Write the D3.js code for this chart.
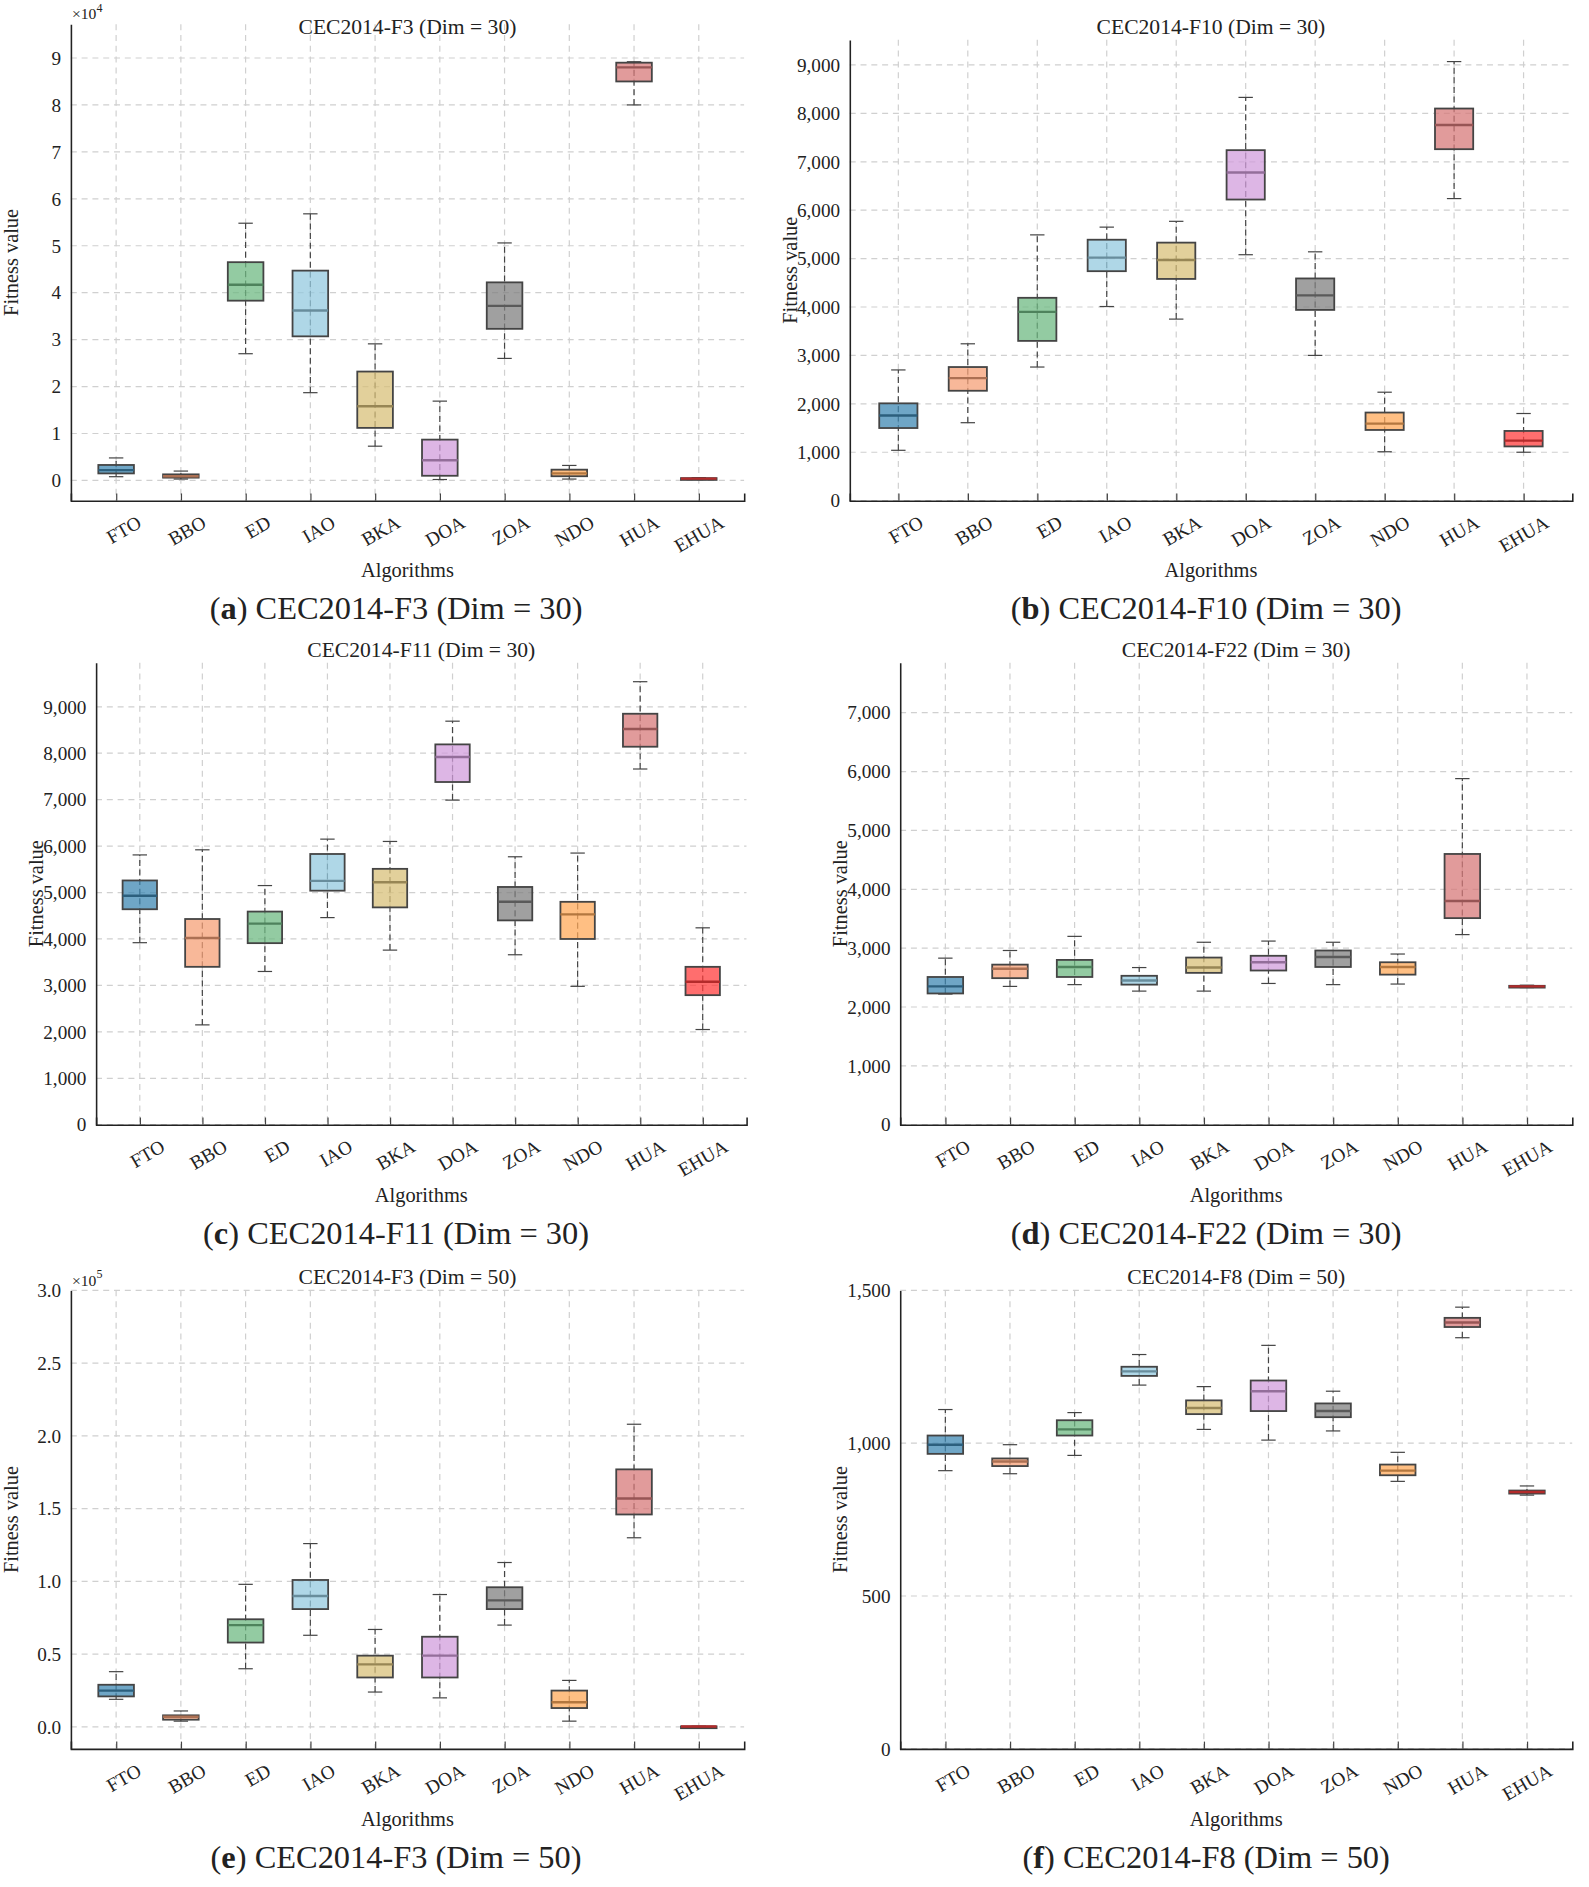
<!DOCTYPE html>
<html><head><meta charset="utf-8">
<script src="https://cdn.jsdelivr.net/npm/d3@7"></script>
<style>body{margin:0;background:#fff}text{font-family:"Liberation Serif","Times New Roman",serif;fill:#222}</style>
</head><body><svg id="c" width="1589" height="1887" viewBox="0 0 1324 1568"></svg>
<script>
const categories=["FTO","BBO","ED","IAO","BKA","DOA","ZOA","NDO","HUA","EHUA"];
const colors=["#3f88b3","#f6a077","#6fb983","#94c9df","#d8c07a","#d29ddc","#808080","#ffaa5a","#d77a7a","#ff3d3d"];
// [low whisker, q1, median, q3, high whisker]
const dataA=[[0.08,0.15,0.22,0.33,0.48],[0.03,0.06,0.09,0.13,0.2],[2.7,3.83,4.17,4.65,5.48],[1.87,3.07,3.62,4.47,5.68],[0.73,1.12,1.58,2.32,2.91],[0.02,0.1,0.43,0.87,1.69],[2.6,3.23,3.72,4.22,5.06],[0.03,0.09,0.15,0.23,0.32],[8.0,8.5,8.8,8.9,8.92],[0.02,0.03,0.04,0.05,0.06]];
const dataB=[[1040,1500,1760,2010,2700],[1610,2270,2530,2760,3240],[2760,3300,3900,4190,5490],[4010,4740,5020,5390,5650],[3750,4580,4970,5330,5770],[5080,6220,6780,7240,8330],[3000,3940,4240,4590,5140],[1010,1460,1590,1820,2240],[6240,7260,7760,8100,9070],[1000,1120,1240,1440,1800]];
const dataC=[[3920,4640,4930,5260,5810],[2150,3400,4020,4430,5920],[3300,3910,4330,4590,5150],[4460,5040,5250,5830,6150],[3760,4680,5220,5510,6100],[6990,7380,7920,8190,8690],[3660,4400,4800,5120,5770],[2980,4000,4530,4800,5850],[7660,8140,8520,8850,9540],[2050,2790,3080,3400,4240]];
const dataD=[[2220,2230,2350,2510,2830],[2350,2490,2650,2720,2960],[2380,2510,2680,2800,3200],[2270,2380,2450,2530,2670],[2270,2580,2670,2840,3100],[2400,2620,2760,2870,3120],[2380,2680,2850,2960,3100],[2390,2550,2680,2760,2900],[3230,3510,3800,4600,5880],[2330,2340,2350,2360,2370]];
const dataE=[[0.19,0.21,0.25,0.29,0.38],[0.04,0.05,0.07,0.08,0.11],[0.40,0.58,0.70,0.74,0.98],[0.63,0.81,0.90,1.01,1.26],[0.24,0.34,0.43,0.49,0.67],[0.20,0.34,0.49,0.62,0.91],[0.70,0.81,0.87,0.96,1.13],[0.04,0.13,0.17,0.25,0.32],[1.30,1.46,1.57,1.77,2.08],[0.001,0.002,0.003,0.004,0.005]];
const dataF=[[910,965,995,1025,1110],[900,925,940,950,995],[960,1025,1045,1075,1100],[1190,1220,1235,1250,1290],[1045,1095,1115,1140,1185],[1010,1105,1170,1205,1320],[1040,1085,1105,1130,1170],[875,895,910,930,970],[1345,1380,1395,1410,1445],[830,835,840,845,860]];
const ticksA=[0,1,2,3,4,5,6,7,8,9], ticksB=d3.range(0,9001,1000), ticksC=d3.range(0,9001,1000), ticksD=d3.range(0,7001,1000), ticksE=[0,0.5,1,1.5,2,2.5,3], ticksF=[0,500,1000,1500];
const titles=["CEC2014-F3 (Dim = 30)","CEC2014-F10 (Dim = 30)","CEC2014-F11 (Dim = 30)","CEC2014-F22 (Dim = 30)","CEC2014-F3 (Dim = 50)","CEC2014-F8 (Dim = 50)"];
const letters=["a","b","c","d","e","f"];
const SERIF="Liberation Serif";
const panels=[
 {d:dataA,t:ticksA,dom:[-0.43,9.72],L:59,R:620,T:18,B:415,exp:"4"},
 {d:dataB,t:ticksB,dom:[0,9520],L:708,R:1310,T:31,B:415},
 {d:dataC,t:ticksC,dom:[0,9950],L:80,R:622,T:550,B:935},
 {d:dataD,t:ticksD,dom:[0,7850],L:750,R:1310,T:550,B:935},
 {d:dataE,t:ticksE,dom:[-0.15,3],L:59,R:620,T:1073,B:1455,exp:"5"},
 {d:dataF,t:ticksF,dom:[0,1500],L:750,R:1310,T:1073,B:1455}
];
const svg=d3.select("#c");
panels.forEach((p,i)=>{
 const g=svg.append("g");
 const x=d3.scalePoint().domain(categories).range([p.L,p.R]).padding(0.7);
 const y=d3.scaleLinear().domain(p.dom).range([p.B,p.T]);
 g.selectAll(".hg").data(p.t).join("line").attr("x1",p.L).attr("x2",p.R).attr("y1",d=>y(d)).attr("y2",d=>y(d)).attr("stroke","#d0d0d0").attr("stroke-dasharray","5,4");
 g.selectAll(".vg").data(categories).join("line").attr("x1",d=>x(d)).attr("x2",d=>x(d)).attr("y1",p.T).attr("y2",p.B).attr("stroke","#d0d0d0").attr("stroke-dasharray","5,4");
 const ya=g.append("g").attr("transform",`translate(${p.L},0)`).call(d3.axisLeft(y).tickValues(p.t).tickSize(0).tickPadding(8)).attr("font-family",SERIF).attr("font-size",16);
 ya.select(".domain").attr("stroke","#222").attr("stroke-width",1.3);
 ya.selectAll("text").style("font-family",SERIF).style("font-size","16px");
 const xa=g.append("g").attr("transform",`translate(0,${p.B})`).call(d3.axisBottom(x).tickSize(-6).tickPadding(10)).attr("font-family",SERIF).attr("font-size",16);
 xa.select(".domain").attr("stroke","#222").attr("stroke-width",1.3);
 xa.selectAll("line").attr("stroke","#444");
 xa.selectAll("text").style("font-family",SERIF).style("font-size","16px").attr("text-anchor","end").attr("transform","rotate(-30) translate(8,8)");
 const bw=x.step()*0.55;
 p.d.forEach((v,k)=>{
  const cx=x(categories[k]);
  const c=colors[k];
  g.append("line").attr("x1",cx).attr("x2",cx).attr("y1",y(v[0])).attr("y2",y(v[4])).attr("stroke","#444").attr("stroke-dasharray","5,3").attr("stroke-width",1);
  [v[0],v[4]].forEach(w=>g.append("line").attr("x1",cx-6).attr("x2",cx+6).attr("y1",y(w)).attr("y2",y(w)).attr("stroke","#444"));
  g.append("rect").attr("x",cx-bw/2).attr("width",bw).attr("y",y(v[3])).attr("height",Math.max(1.5,y(v[1])-y(v[3]))).attr("fill",c).attr("fill-opacity",0.75).attr("stroke","#444").attr("stroke-width",1.5);
  g.append("line").attr("x1",cx-bw/2).attr("x2",cx+bw/2).attr("y1",y(v[2])).attr("y2",y(v[2])).attr("stroke",d3.color(c).darker(1)).attr("stroke-width",2);
 });
 const mx=(p.L+p.R)/2;
 g.append("text").attr("x",mx).attr("y",p.T+(i==0?8:-5)).attr("text-anchor","middle").attr("font-size",18).text(titles[i]);
 g.append("text").attr("transform",`translate(${p.L-44},${(p.T+p.B)/2}) rotate(-90)`).attr("text-anchor","middle").attr("font-size",17).text("Fitness value");
 g.append("text").attr("x",mx).attr("y",p.B+64).attr("text-anchor","middle").attr("font-size",17).text("Algorithms");
 const cap=g.append("text").attr("x",(i%2==0?330:1005)).attr("y",p.B+99).attr("text-anchor","middle").attr("font-size",27);
 cap.append("tspan").text("(");
 cap.append("tspan").attr("font-weight","bold").text(letters[i]);
 cap.append("tspan").text(") "+titles[i]);
 if(p.exp){const e=g.append("text").attr("x",p.L+1).attr("y",p.T-4).attr("font-size",13).attr("fill","#555");e.append("tspan").text("×10");e.append("tspan").attr("dy",-6).attr("font-size",10).text(p.exp);}
});
</script></body></html>
